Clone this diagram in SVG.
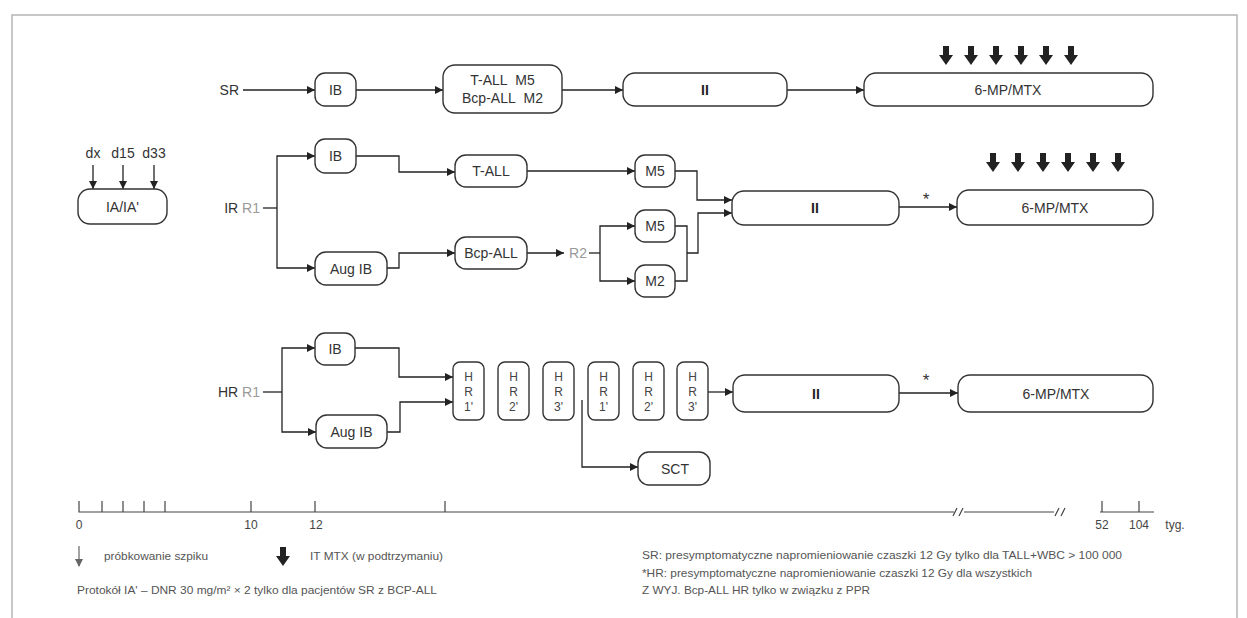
<svg xmlns="http://www.w3.org/2000/svg" width="1247" height="618" viewBox="0 0 1247 618">
<defs>
<style>
.bx{fill:#fff;stroke:#333;stroke-width:1.4}
.ln{fill:none;stroke:#222;stroke-width:1.3}
.t{font-family:"Liberation Sans",Arial,sans-serif;font-size:14px;fill:#333;text-anchor:middle;dominant-baseline:central}
.tl{font-family:"Liberation Sans",Arial,sans-serif;font-size:14px;fill:#333;text-anchor:end;dominant-baseline:central}
.b{font-weight:bold;fill:#222}
.g{fill:#999}
.s{font-family:"Liberation Sans",Arial,sans-serif;font-size:11px;fill:#555;dominant-baseline:central}
.n{font-family:"Liberation Sans",Arial,sans-serif;font-size:12px;fill:#444;dominant-baseline:central;text-anchor:middle}
.hr{font-family:"Liberation Sans",Arial,sans-serif;font-size:12px;fill:#444;text-anchor:middle;dominant-baseline:central}
.tk{fill:none;stroke:#444;stroke-width:1.2}
</style>
<marker id="ah" viewBox="0 0 10 10" refX="10" refY="5" markerWidth="9" markerHeight="8" markerUnits="userSpaceOnUse" orient="auto">
<path d="M0,0 L10,5 L0,10 Z" fill="#222"/>
</marker>
<path id="big" d="M-3,0 H3 V9 H7 L0,19 L-7,9 H-3 Z" fill="#222"/>
</defs>
<rect width="1247" height="618" fill="#fff"/>
<path d="M12,618 V15 H1237 V618" fill="none" stroke="#b5b5b5" stroke-width="1.5"/>

<g id="connectors">
<path class="ln" d="M243,90 H315" marker-end="url(#ah)"/>
<path class="ln" d="M356,90 H443" marker-end="url(#ah)"/>
<path class="ln" d="M562,90 H623" marker-end="url(#ah)"/>
<path class="ln" d="M787,90 H864" marker-end="url(#ah)"/>
<path class="ln" d="M93,165 V189" marker-end="url(#ah)"/>
<path class="ln" d="M123,165 V189" marker-end="url(#ah)"/>
<path class="ln" d="M154,165 V189" marker-end="url(#ah)"/>
<path class="ln" d="M263,208 H277"/>
<path class="ln" d="M277,208 V156 H315" marker-end="url(#ah)"/>
<path class="ln" d="M277,208 V268 H315" marker-end="url(#ah)"/>
<path class="ln" d="M356,156 H399 V172 H455" marker-end="url(#ah)"/>
<path class="ln" d="M387,268 H399 V253 H455" marker-end="url(#ah)"/>
<path class="ln" d="M527,171 H635" marker-end="url(#ah)"/>
<path class="ln" d="M675,171 H697 V200 H732" marker-end="url(#ah)"/>
<path class="ln" d="M527,253 H564" marker-end="url(#ah)"/>
<path class="ln" d="M589,253 H600"/>
<path class="ln" d="M600,253 V226 H635" marker-end="url(#ah)"/>
<path class="ln" d="M600,253 V281 H635" marker-end="url(#ah)"/>
<path class="ln" d="M675,226 H687 V281 H675"/>
<path class="ln" d="M687,253 H698 V213 H732" marker-end="url(#ah)"/>
<path class="ln" d="M899,207 H957" marker-end="url(#ah)"/>
<path class="ln" d="M263,392 H282"/>
<path class="ln" d="M282,392 V348 H315" marker-end="url(#ah)"/>
<path class="ln" d="M282,392 V432 H316" marker-end="url(#ah)"/>
<path class="ln" d="M355,348 H399 V377 H453" marker-end="url(#ah)"/>
<path class="ln" d="M387,432 H400 V402 H453" marker-end="url(#ah)"/>
<path class="ln" d="M708,392 H733" marker-end="url(#ah)"/>
<path class="ln" d="M899,393 H958" marker-end="url(#ah)"/>
<path class="ln" d="M582,400 V467 H638" marker-end="url(#ah)"/>
</g>

<g id="labels">
<text class="tl" x="239" y="90">SR</text>
<text class="tl" x="260" y="208">IR <tspan class="g">R1</tspan></text>
<text class="tl" x="260" y="392">HR <tspan class="g">R1</tspan></text>
<text class="t" x="578" y="253" style="fill:#999">R2</text>
<text class="t" x="926" y="199" style="font-size:17px">*</text>
<text class="t" x="926" y="380" style="font-size:17px">*</text>
<text class="t" x="93" y="153">dx</text>
<text class="t" x="123" y="153">d15</text>
<text class="t" x="154" y="153">d33</text>
</g>

<g id="it-arrows">
<use href="#big" x="946" y="46"/><use href="#big" x="971" y="46"/><use href="#big" x="996" y="46"/>
<use href="#big" x="1021" y="46"/><use href="#big" x="1046" y="46"/><use href="#big" x="1071" y="46"/>
<use href="#big" x="993" y="153"/><use href="#big" x="1018" y="153"/><use href="#big" x="1043" y="153"/>
<use href="#big" x="1068" y="153"/><use href="#big" x="1093" y="153"/><use href="#big" x="1118" y="153"/>
</g>

<g id="sr-ib"><rect class="bx" x="315" y="73" width="41" height="33" rx="10"/><text class="t" x="335.5" y="90">IB</text></g>
<g id="sr-m"><rect class="bx" x="443" y="65" width="119" height="48" rx="12"/><text class="t" x="502.5" y="80">T-ALL&#160;&#160;M5</text><text class="t" x="502.5" y="98">Bcp-ALL&#160;&#160;M2</text></g>
<g id="sr-ii"><rect class="bx" x="623" y="73" width="164" height="33" rx="12"/><text class="t b" x="705" y="90">II</text></g>
<g id="sr-mp"><rect class="bx" x="864" y="73" width="289" height="33" rx="12"/><text class="t" x="1008" y="90">6-MP/MTX</text></g>

<g id="ia"><rect class="bx" x="78" y="189" width="89" height="35" rx="12"/><text class="t" x="122.5" y="207">IA/IA'</text></g>

<g id="ir-ib"><rect class="bx" x="315" y="139" width="41" height="34" rx="10"/><text class="t" x="335.5" y="156">IB</text></g>
<g id="ir-aug"><rect class="bx" x="315" y="252" width="72" height="33" rx="11"/><text class="t" x="351" y="268.5">Aug IB</text></g>
<g id="ir-tall"><rect class="bx" x="455" y="155" width="72" height="32" rx="11"/><text class="t" x="491" y="171">T-ALL</text></g>
<g id="ir-bcp"><rect class="bx" x="455" y="237" width="72" height="32" rx="11"/><text class="t" x="491" y="253">Bcp-ALL</text></g>
<g id="ir-m5a"><rect class="bx" x="635" y="155" width="40" height="32" rx="10"/><text class="t" x="655" y="171">M5</text></g>
<g id="ir-m5b"><rect class="bx" x="635" y="210" width="40" height="32" rx="10"/><text class="t" x="655" y="226">M5</text></g>
<g id="ir-m2"><rect class="bx" x="635" y="265" width="40" height="32" rx="10"/><text class="t" x="655" y="281">M2</text></g>
<g id="ir-ii"><rect class="bx" x="732" y="191" width="167" height="34" rx="12"/><text class="t b" x="815" y="208">II</text></g>
<g id="ir-mp"><rect class="bx" x="957" y="190" width="196" height="35" rx="12"/><text class="t" x="1055" y="207.5">6-MP/MTX</text></g>

<g id="hr-ib"><rect class="bx" x="315" y="333" width="40" height="32" rx="10"/><text class="t" x="335" y="349">IB</text></g>
<g id="hr-aug"><rect class="bx" x="316" y="415" width="71" height="33" rx="11"/><text class="t" x="351.5" y="431.5">Aug IB</text></g>
<g id="hr1"><rect class="bx" x="453" y="362" width="31" height="58" rx="7"/><text class="hr" x="468.5" y="377">H</text><text class="hr" x="468.5" y="392">R</text><text class="hr" x="468.5" y="407">1'</text></g>
<g id="hr2"><rect class="bx" x="498" y="362" width="31" height="58" rx="7"/><text class="hr" x="513.5" y="377">H</text><text class="hr" x="513.5" y="392">R</text><text class="hr" x="513.5" y="407">2'</text></g>
<g id="hr3"><rect class="bx" x="543" y="362" width="31" height="58" rx="7"/><text class="hr" x="558.5" y="377">H</text><text class="hr" x="558.5" y="392">R</text><text class="hr" x="558.5" y="407">3'</text></g>
<g id="hr4"><rect class="bx" x="588" y="362" width="31" height="58" rx="7"/><text class="hr" x="603.5" y="377">H</text><text class="hr" x="603.5" y="392">R</text><text class="hr" x="603.5" y="407">1'</text></g>
<g id="hr5"><rect class="bx" x="633" y="362" width="31" height="58" rx="7"/><text class="hr" x="648.5" y="377">H</text><text class="hr" x="648.5" y="392">R</text><text class="hr" x="648.5" y="407">2'</text></g>
<g id="hr6"><rect class="bx" x="677" y="362" width="31" height="58" rx="7"/><text class="hr" x="692.5" y="377">H</text><text class="hr" x="692.5" y="392">R</text><text class="hr" x="692.5" y="407">3'</text></g>
<g id="hr-ii"><rect class="bx" x="733" y="375" width="166" height="37" rx="12"/><text class="t b" x="816" y="393.5">II</text></g>
<g id="hr-mp"><rect class="bx" x="958" y="375" width="195" height="37" rx="12"/><text class="t" x="1056" y="393.5">6-MP/MTX</text></g>
<g id="sct"><rect class="bx" x="638" y="452" width="72" height="33" rx="11"/><text class="t" x="675" y="468.5">SCT</text></g>

<g id="timeline">
<path class="tk" d="M79,501 V512 H954 M964,512 H1054 M1100,512 H1154 M102,512 V501 M123,512 V501 M144,512 V501 M165,512 V501 M251,512 V501 M315,512 V501 M445,512 V501 M1102,512 V501 M1139,512 V501"/>
<path class="tk" d="M953,516 L957,508 M959,516 L963,508 M1055,516 L1059,508 M1061,516 L1065,508"/>
<text class="n" x="79" y="525">0</text>
<text class="n" x="251" y="525">10</text>
<text class="n" x="316" y="525">12</text>
<text class="n" x="1102" y="525">52</text>
<text class="n" x="1139" y="525">104</text>
<text class="n" x="1175" y="525">tyg.</text>
</g>

<g id="legend">
<path d="M79,546 V566" stroke="#666" stroke-width="1.2" fill="none"/>
<path d="M75,559 L79,567 L83,559 Z" fill="#666"/>
<text class="s" x="104" y="556" textLength="104" lengthAdjust="spacingAndGlyphs">próbkowanie szpiku</text>
<use href="#big" x="283" y="547"/>
<text class="s" x="310" y="556" textLength="133" lengthAdjust="spacingAndGlyphs">IT MTX (w podtrzymaniu)</text>
<text class="s" x="77" y="590" textLength="360" lengthAdjust="spacingAndGlyphs">Protokół IA' – DNR 30 mg/m² × 2 tylko dla pacjentów SR z BCP-ALL</text>
<text class="s" x="642" y="555" textLength="480" lengthAdjust="spacingAndGlyphs">SR: presymptomatyczne napromieniowanie czaszki 12 Gy tylko dla TALL+WBC &gt; 100 000</text>
<text class="s" x="642" y="573" textLength="390" lengthAdjust="spacingAndGlyphs">*HR: presymptomatyczne napromieniowanie czaszki 12 Gy dla wszystkich</text>
<text class="s" x="642" y="590" textLength="228" lengthAdjust="spacingAndGlyphs">Z WYJ. Bcp-ALL HR tylko w związku z PPR</text>
</g>
</svg>
